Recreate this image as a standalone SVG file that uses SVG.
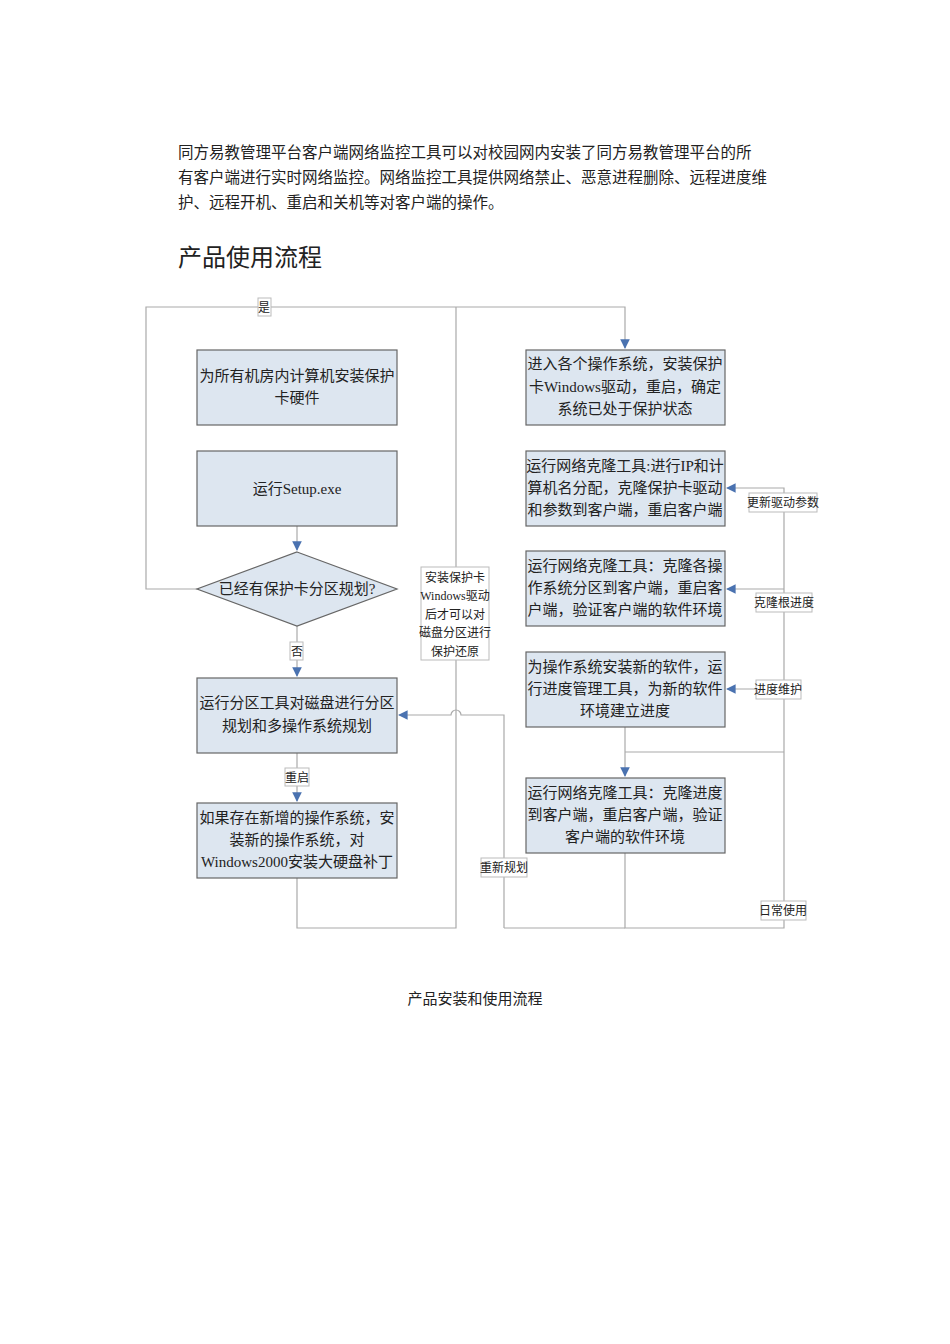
<svg xmlns="http://www.w3.org/2000/svg" width="950" height="1344" viewBox="0 0 950 1344">
<defs>
<style>
text{font-family:"Liberation Serif","Noto Sans CJK SC",serif;fill:#222}
.b{fill:#dde6f0;stroke:#666;stroke-width:1.2}
.t{font-size:15px;text-anchor:middle}
.l{fill:#fff;stroke:#bbb;stroke-width:1}
.lt{font-size:12px;text-anchor:middle}
.c{fill:none;stroke:#aaa;stroke-width:1.2}
.p{font-size:15.5px}
</style>
<marker id="a" viewBox="0 0 10 10" refX="9" refY="5" markerWidth="8" markerHeight="8" orient="auto"><path d="M0,0L10,5L0,10z" fill="#4a72b0"/></marker>
</defs>
<rect width="950" height="1344" fill="#fff"/>
<text class="p" x="178" y="158">同方易教管理平台客户端网络监控工具可以对校园网内安装了同方易教管理平台的所</text>
<text class="p" x="178" y="183">有客户端进行实时网络监控。网络监控工具提供网络禁止、恶意进程删除、远程进度维</text>
<text class="p" x="178" y="208">护、远程开机、重启和关机等对客户端的操作。</text>
<text x="178" y="266" style="font-size:24px">产品使用流程</text>
<g id="connectors">
<path class="c" d="M197,589H146V307H625V348" marker-end="url(#a)"/>
<path class="c" d="M456,307V928H297V878"/>
<path class="c" d="M297,526V550" marker-end="url(#a)"/>
<path class="c" d="M297,626V676" marker-end="url(#a)"/>
<path class="c" d="M297,753V801" marker-end="url(#a)"/>
<path class="c" d="M625,853V928H784V488H727" marker-end="url(#a)"/>
<path class="c" d="M504,928V715H461A5,5 0 0 0 451,715H399" marker-end="url(#a)"/>
<path class="c" d="M504,928H625"/>
<path class="c" d="M784,589H727" marker-end="url(#a)"/>
<path class="c" d="M784,689H727" marker-end="url(#a)"/>
<path class="c" d="M784,752H625"/>
<path class="c" d="M625,727V776" marker-end="url(#a)"/>
<rect class="l" x="258" y="298" width="13" height="18"/><text class="lt" x="264" y="312">是</text>
<rect class="l" x="290" y="642" width="13" height="18"/><text class="lt" x="297" y="656">否</text>
<rect class="l" x="285" y="768" width="24" height="18"/><text class="lt" x="297" y="782">重启</text>
<rect class="l" x="421" y="567" width="68" height="93"/>
<text class="lt" x="455" y="582">安装保护卡</text><text class="lt" x="455" y="600">Windows驱动</text><text class="lt" x="455" y="619">后才可以对</text><text class="lt" x="455" y="637">磁盘分区进行</text><text class="lt" x="455" y="656">保护还原</text>
<rect class="l" x="481" y="858" width="46" height="19"/><text class="lt" x="504" y="872">重新规划</text>
<rect class="l" x="749" y="493" width="68" height="19"/><text class="lt" x="783" y="507">更新驱动参数</text>
<rect class="l" x="756" y="593" width="56" height="19"/><text class="lt" x="784" y="607">克隆根进度</text>
<rect class="l" x="756" y="680" width="45" height="19"/><text class="lt" x="778" y="694">进度维护</text>
<rect class="l" x="761" y="901" width="45" height="19"/><text class="lt" x="783" y="915">日常使用</text>
</g>
<g id="n1"><rect class="b" x="197" y="350" width="200" height="75"/><text class="t" x="297" y="381">为所有机房内计算机安装保护</text><text class="t" x="297" y="403">卡硬件</text></g>
<g id="n2"><rect class="b" x="197" y="451" width="200" height="75"/><text class="t" x="297" y="494">运行Setup.exe</text></g>
<g id="n3"><polygon class="b" points="297,552 397,589 297,626 197,589"/><text class="t" x="297" y="594">已经有保护卡分区规划?</text></g>
<g id="n4"><rect class="b" x="197" y="678" width="200" height="75"/><text class="t" x="297" y="708">运行分区工具对磁盘进行分区</text><text class="t" x="297" y="731">规划和多操作系统规划</text></g>
<g id="n5"><rect class="b" x="197" y="803" width="200" height="75"/><text class="t" x="297" y="823">如果存在新增的操作系统，安</text><text class="t" x="297" y="845">装新的操作系统，对</text><text class="t" x="297" y="867">Windows2000安装大硬盘补丁</text></g>
<g id="n6"><rect class="b" x="526" y="350" width="199" height="75"/><text class="t" x="625" y="369">进入各个操作系统，安装保护</text><text class="t" x="625" y="392">卡Windows驱动，重启，确定</text><text class="t" x="625" y="414">系统已处于保护状态</text></g>
<g id="n7"><rect class="b" x="526" y="451" width="199" height="75"/><text class="t" x="625" y="471">运行网络克隆工具:进行IP和计</text><text class="t" x="625" y="493">算机名分配，克隆保护卡驱动</text><text class="t" x="625" y="515">和参数到客户端，重启客户端</text></g>
<g id="n8"><rect class="b" x="526" y="551" width="199" height="75"/><text class="t" x="625" y="571">运行网络克隆工具：克隆各操</text><text class="t" x="625" y="593">作系统分区到客户端，重启客</text><text class="t" x="625" y="615">户端，验证客户端的软件环境</text></g>
<g id="n9"><rect class="b" x="526" y="652" width="199" height="75"/><text class="t" x="625" y="672">为操作系统安装新的软件，运</text><text class="t" x="625" y="694">行进度管理工具，为新的软件</text><text class="t" x="625" y="716">环境建立进度</text></g>
<g id="n10"><rect class="b" x="526" y="778" width="199" height="75"/><text class="t" x="625" y="798">运行网络克隆工具：克隆进度</text><text class="t" x="625" y="820">到客户端，重启客户端，验证</text><text class="t" x="625" y="842">客户端的软件环境</text></g>
<text x="475" y="1004" style="font-size:15px;text-anchor:middle">产品安装和使用流程</text>
</svg>
